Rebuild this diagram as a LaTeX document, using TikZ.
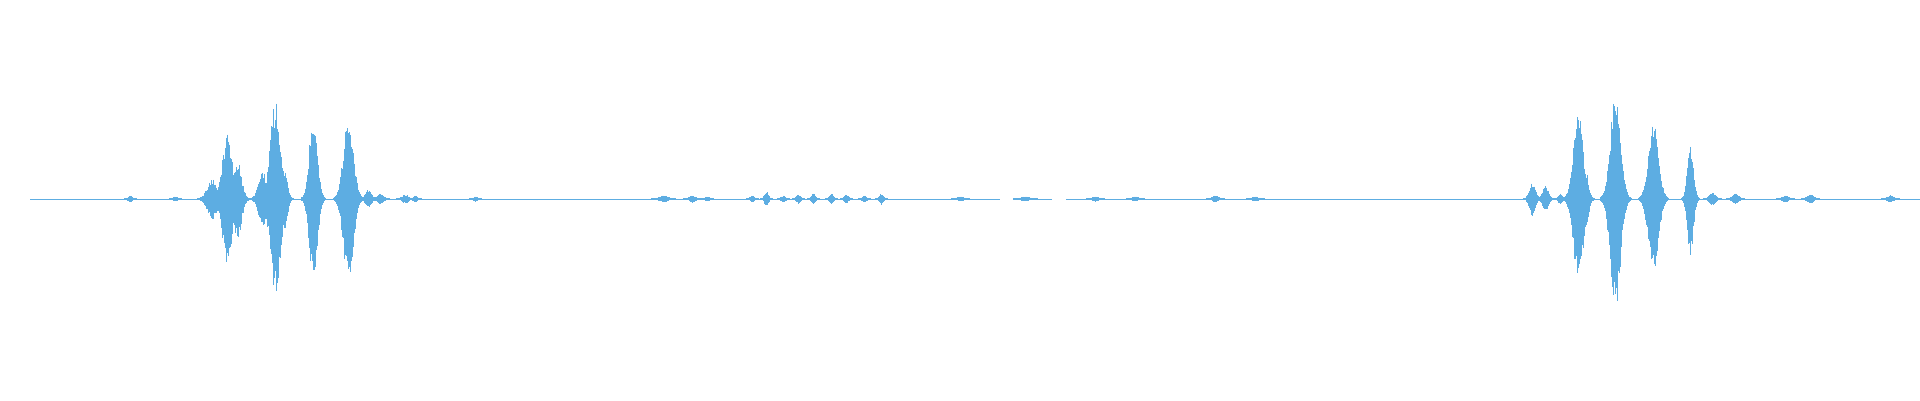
\documentclass[tikz,border=0pt]{standalone}
\begin{document}
\definecolor{wavec}{HTML}{5DADE2}
\begin{tikzpicture}[x=1pt,y=-1pt,bar/.style={draw=wavec,line width=1pt},base/.style={draw=wavec,line width=0.7pt}]
\useasboundingbox (0,0) rectangle (1920,400);
\pgfmathsetseed{7}
\draw[base] (30,199) -- (1000,199);
\draw[base] (1018,199) -- (1052,199);
\draw[base] (1066,199) -- (1920,199);
\foreach \c/\a/\s in {
 130/3/2, 175/2/2, 212/20/5, 227/66/5, 237/40/4, 262/28/4, 275/100/5, 284/30/3,
 313/88/4, 348/82/5, 368/9/3, 380/5/3, 405/4/3, 415/3/2, 475/2/2,
 663/3/4, 692/3/3, 707/2/2, 752/3/2, 766/7/2, 783/3/2, 798/4/2, 813/5/2, 831/5/2, 846/4/2, 864/3/2, 881/5/2,
 960/2/3, 1025/2/4, 1095/2/3, 1135/2/3, 1215/3/3, 1255/2/3,
 1532/16/3, 1545/13/3, 1560/5/2, 1578/84/5, 1585/30/3, 1615/112/5, 1622/25/3, 1653/78/5, 1690/56/3,
 1712/6/3, 1735/5/3, 1785/3/3, 1810/4/3, 1890/3/3}{
 \pgfmathtruncatemacro\n{3*\s}
 \foreach \i in {-\n,...,\n}{
  \pgfmathsetmacro\g{\a*exp(-(\i*\i)/(2*\s*\s))}
  \pgfmathsetmacro\u{\g*(0.7+0.3*rnd)+0.6}
  \pgfmathsetmacro\d{\g*(0.7+0.3*rnd)+0.6}
  \draw[bar] (\c+\i,199-\u) -- (\c+\i,199+\d);
 }
}
\end{tikzpicture}
\end{document}
